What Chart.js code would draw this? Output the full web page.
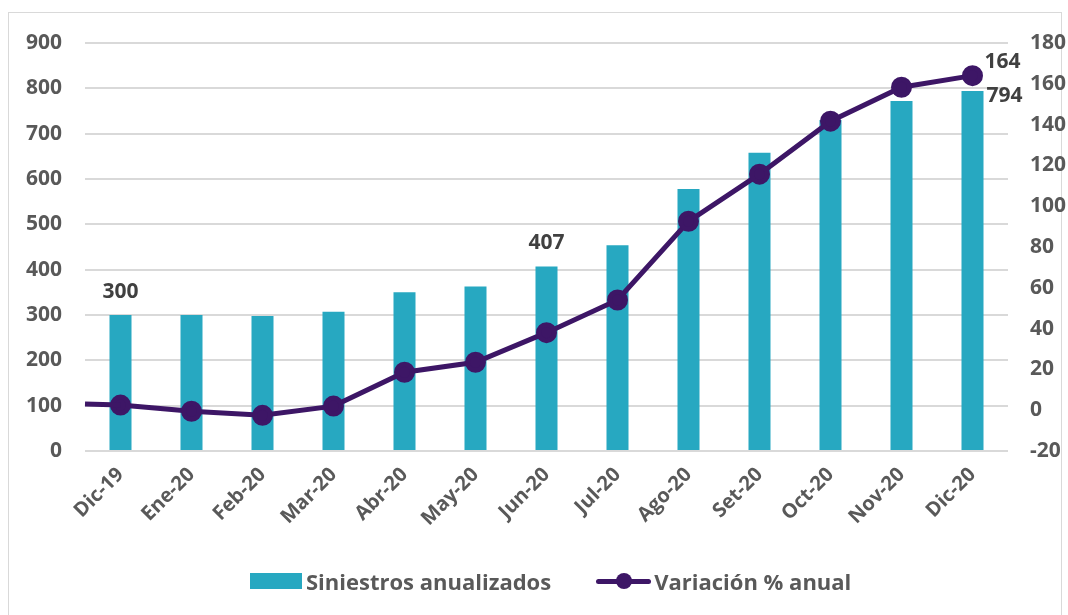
<!DOCTYPE html>
<html>
<head>
<meta charset="utf-8">
<script src="https://cdn.jsdelivr.net/npm/chart.js@4.4.1/dist/chart.umd.min.js"></script>
<style>
  html, body { margin: 0; padding: 0; background: #fff; }
  #wrap { position: relative; width: 1068px; height: 615px; overflow: hidden; }
  #frame { position: absolute; left: 8px; top: 12px; width: 1054px; height: 620px; border: 1px solid #d9d9d9; box-sizing: border-box; }
  canvas { position: absolute; left: 0; top: 0; }
  #leyenda { position: absolute; left: 250px; top: 566px; height: 30px; display: flex; align-items: center;
    font: bold 22px "Open Sans", sans-serif; color: #595959; white-space: nowrap; }
  .item { display: flex; align-items: center; }
  .caja { width: 52px; height: 16px; margin-right: 4px; }
  .linea { position: relative; width: 55px; height: 18px; margin-right: 3px; }
  .linea .trazo { position: absolute; left: 0; top: 6.5px; width: 55px; height: 5px; border-radius: 3px; }
  .linea .punto { position: absolute; left: 19.5px; top: 1px; width: 16px; height: 16px; border-radius: 50%; }
</style>
</head>
<body>
<div id="wrap">
  <div id="frame"></div>
  <canvas id="chart1" width="1068" height="615"></canvas>
  <div id="leyenda"></div>
</div>
<script>
// datos
const meses = ['Dic-19', 'Ene-20', 'Feb-20', 'Mar-20', 'Abr-20', 'May-20', 'Jun-20',
  'Jul-20', 'Ago-20', 'Set-20', 'Oct-20', 'Nov-20', 'Dic-20']
const siniestros = [300, 300, 298, 307, 350, 363, 407, 454, 578, 658, 730, 772, 794]
const variacion = [2.5, -0.5, -2.5, 2, 18.6, 23.5, 38, 54, 92.6, 115.7, 141.7, 158.3, 164]
const ticksIzq = { min: 0, max: 900, step: 100 }
const ticksDer = { min: -20, max: 180, step: 20 }
const etiquetasBarra = [0, 6, 12]
const etiquetasLinea = [12]

const colores = { barra: '#27a8c1', linea: '#3d1666', texto: '#595959', valor: '#404040', grid: '#d9d9d9' }
const fuente = '"Open Sans", sans-serif'

// etiquetas de valores y tramo inicial de la linea
const extras = {
    id: 'extras',
    afterDatasetsDraw(chart) {
        const ctx = chart.ctx
        const area = chart.chartArea
        const linea = chart.getDatasetMeta(1).data
        // tramo desde el borde izquierdo hasta el primer punto
        ctx.save()
        ctx.strokeStyle = colores.linea
        ctx.lineWidth = 5
        ctx.beginPath()
        ctx.moveTo(area.left, linea[0].y - 1)
        ctx.lineTo(linea[0].x, linea[0].y)
        ctx.stroke()
        ctx.restore()

        ctx.save()
        ctx.font = 'bold 21px ' + fuente
        ctx.fillStyle = colores.valor
        ctx.textBaseline = 'middle'
        const barras = chart.getDatasetMeta(0).data
        etiquetasBarra.forEach(i => {
            const b = barras[i]
            if (i === barras.length - 1) {
                ctx.textAlign = 'left'
                ctx.fillText(siniestros[i], b.x + b.width / 2 + 3, b.y + 5)
            } else {
                ctx.textAlign = 'center'
                ctx.fillText(siniestros[i], b.x, b.y - 23)
            }
        })
        etiquetasLinea.forEach(i => {
            const p = linea[i]
            ctx.textAlign = 'left'
            ctx.fillText(variacion[i], p.x + 12, p.y - 14)
        })
        ctx.restore()
    }
}

const data = {
    labels: meses,
    datasets: [{
        type: 'bar',
        label: 'Siniestros anualizados',
        data: siniestros,
        backgroundColor: colores.barra,
        yAxisID: 'y',
        barPercentage: 0.31,
        categoryPercentage: 1,
        order: 2
    }, {
        type: 'line',
        label: 'Variación % anual',
        data: variacion,
        borderColor: colores.linea,
        backgroundColor: colores.linea,
        borderWidth: 5,
        pointRadius: 8,
        pointHoverRadius: 8,
        tension: 0,
        yAxisID: 'y1',
        order: 1
    }]
}

const options = {
    responsive: false,
    animation: false,
    layout: { padding: { top: 43, bottom: 54, left: 0, right: 0 } },
    plugins: {
        tooltip: { enabled: false },
        legend: { display: false }
    },
    scales: {
        x: {
            grid: { display: false },
            border: { display: false },
            ticks: {
                color: colores.texto,
                font: { family: fuente, size: 20, weight: 'bold' },
                minRotation: 45,
                maxRotation: 45,
                padding: 4
            },
            afterFit: s => { s.height = 110 }
        },
        y: {
            position: 'left',
            min: ticksIzq.min,
            max: ticksIzq.max,
            grid: { color: colores.grid, lineWidth: 2, drawTicks: false },
            border: { display: false },
            ticks: {
                stepSize: ticksIzq.step,
                padding: 23,
                color: colores.texto,
                font: { family: fuente, size: 21, weight: 'bold' }
            },
            afterFit: s => { s.width = 85 }
        },
        y1: {
            position: 'right',
            min: ticksDer.min,
            max: ticksDer.max,
            grid: { display: false, drawTicks: false },
            border: { display: false },
            ticks: {
                stepSize: ticksDer.step,
                padding: 22,
                color: colores.texto,
                font: { family: fuente, size: 21, weight: 'bold' }
            },
            afterFit: s => { s.width = 60 }
        }
    }
}

const chart = new Chart('chart1', { data, options, plugins: [extras] })

// leyenda en html, con los nombres de las series
const leyenda = document.getElementById('leyenda')
chart.data.datasets.forEach((ds, i) => {
    const item = document.createElement('div')
    item.className = 'item'
    if (ds.type === 'bar') {
        item.innerHTML = '<span class="caja" style="background:' + ds.backgroundColor + '"></span>'
    } else {
        item.style.marginLeft = '45px'
        item.innerHTML = '<span class="linea"><span class="trazo" style="background:' + ds.borderColor +
            '"></span><span class="punto" style="background:' + ds.borderColor + '"></span></span>'
    }
    const txt = document.createElement('span')
    txt.textContent = ds.label
    item.appendChild(txt)
    leyenda.appendChild(item)
})
</script>
</body>
</html>
